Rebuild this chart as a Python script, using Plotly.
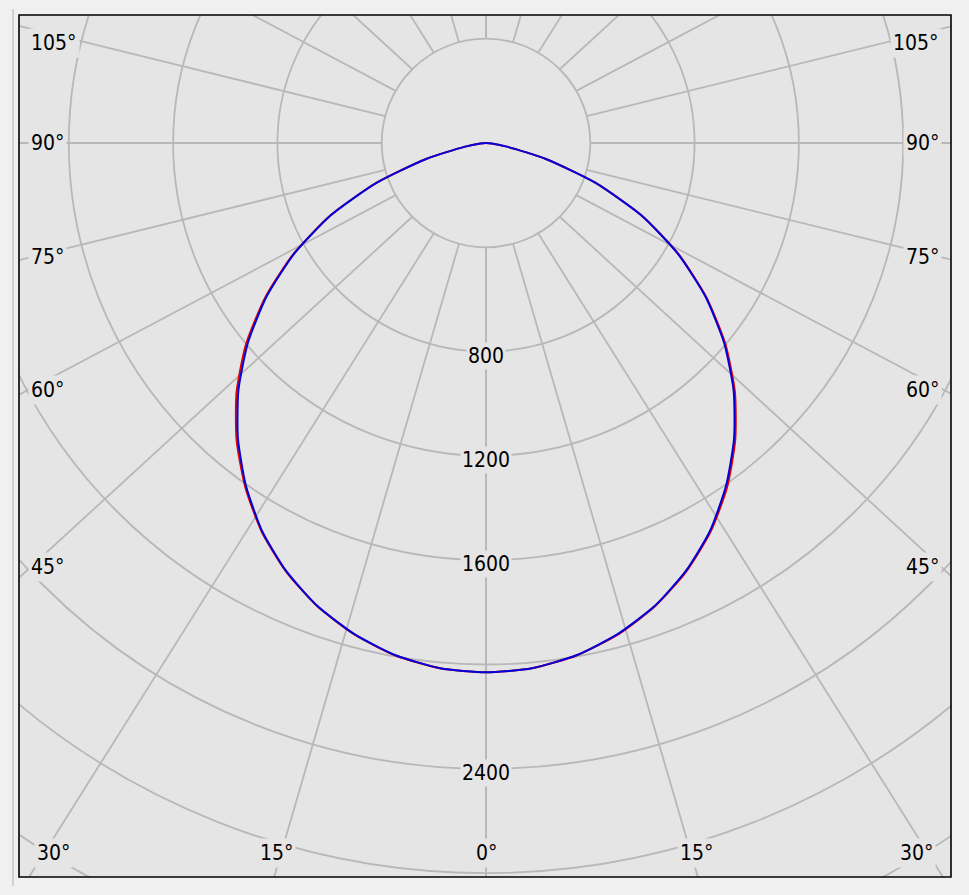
import numpy as np
import plotly.graph_objects as go

# ---------------- data (luminous intensity distribution, cd) ----------------
gamma = [0, 5, 10, 15, 20, 25, 30, 35, 40, 45, 50, 55, 60, 65, 70, 75, 80, 85, 90]
c0 = [2030, 2022, 1996, 1952, 1892, 1815, 1722, 1612, 1487, 1350, 1198, 1032, 853, 660, 448, 240, 85, 22, 0]
c180 = [2030, 2022, 1996, 1951, 1891, 1814, 1721, 1610, 1488, 1353, 1202, 1034, 854, 660, 448, 240, 85, 22, 0]
c90 = [2030, 2022, 1995, 1950, 1890, 1812, 1718, 1605, 1480, 1343, 1192, 1028, 850, 658, 447, 240, 85, 22, 0]
c270 = [2030, 2022, 1995, 1950, 1890, 1812, 1718, 1605, 1480, 1343, 1192, 1028, 850, 658, 447, 240, 85, 22, 0]

radial_grid = [400, 800, 1200, 1600, 2000, 2400, 2800, 3200]
radial_labels = [800, 1200, 1600, 2400]
spoke_angles = [0, 15, 30, 45, 60, 75, 90, 105, 120, 135, 150, 165, 180]
side_labels = ["105°", "90°", "75°", "60°", "45°"]
bottom_labels = ["30°", "15°", "0°", "15°", "30°"]

# ---------------- layout geometry (pixels) ----------------
W, H = 969, 895
L, R, T, B = 19, 951, 15, 877          # plot frame
CX, CY = 486, 143                      # pole position
PX_PER_CD = 104.3 / 400.0
SPOKE_END = 3830.0                     # spokes run to an ellipse of this size
SPOKE_XSTRETCH = 1.08

xr = [-(CX - L) / PX_PER_CD, (R - CX) / PX_PER_CD]
yr = [-(B - CY) / PX_PER_CD, (CY - T) / PX_PER_CD]


def pfx(px):
    return px / W


def pfy(py):
    return 1 - py / H


GRID = "#b8b8b8"
BG = "#e5e5e5"
FONT = dict(family="DejaVu Sans Condensed, DejaVu Sans, Liberation Sans, sans-serif", size=21, color="#000000")


def polar_xy(values, angles, side):
    v = np.asarray(values, float)
    a = np.radians(np.asarray(angles, float))
    return side * v * np.sin(a), -v * np.cos(a)


def curve(left_vals, right_vals):
    xl, yl = polar_xy(left_vals, gamma, -1)
    xr_, yr_ = polar_xy(right_vals, gamma, 1)
    return np.concatenate([xl[::-1], xr_[1:]]), np.concatenate([yl[::-1], yr_[1:]])


fig = go.Figure()

# spokes: from the inner ring outwards
sx, sy = [], []
for a in spoke_angles:
    for side in (-1, 1):
        ix, iy = polar_xy([radial_grid[0]], [a], side)
        ox, oy = polar_xy([SPOKE_END], [a], side)
        sx += [ix[0], ox[0] * SPOKE_XSTRETCH, None]
        sy += [iy[0], oy[0], None]
fig.add_trace(go.Scatter(x=sx, y=sy, mode="lines", line=dict(color=GRID, width=1.8),
                         hoverinfo="skip", showlegend=False))

# grid circles
shapes = []
for r in radial_grid:
    shapes.append(dict(type="circle", xref="x", yref="y", x0=-r, x1=r, y0=-r, y1=r,
                       line=dict(color=GRID, width=1.8), layer="below"))

# curves
x1, y1 = curve(c180, c0)
fig.add_trace(go.Scatter(x=x1, y=y1, mode="lines", name="C0-C180",
                         line=dict(color="#e00000", width=2, shape="spline", smoothing=0.6),
                         showlegend=False))
x2, y2 = curve(c270, c90)
fig.add_trace(go.Scatter(x=x2, y=y2, mode="lines", name="C90-C270",
                         line=dict(color="#0000dc", width=2, shape="spline", smoothing=0.6),
                         showlegend=False))

# frame and outer line
shapes.append(dict(type="rect", xref="paper", yref="paper", x0=pfx(L), x1=pfx(R), y0=pfy(B), y1=pfy(T),
                   line=dict(color="#000000", width=1.6), layer="above"))
shapes.append(dict(type="line", xref="paper", yref="paper", x0=pfx(13), x1=pfx(13), y0=pfy(886), y1=pfy(9),
                   line=dict(color="#b0b0b0", width=1), layer="above"))

annotations = []
for v in radial_labels:
    annotations.append(dict(x=0, y=-v, xref="x", yref="y", text=str(v), showarrow=False,
                            font=FONT, bgcolor=BG, borderpad=1, yshift=-4))

side_y = [43, 143, 257, 390, 567]
for txt, py in zip(side_labels, side_y):
    annotations.append(dict(x=pfx(28), y=pfy(py), xref="paper", yref="paper", text=txt,
                            showarrow=False, xanchor="left", yanchor="middle",
                            font=FONT, bgcolor=BG, borderpad=2))
    annotations.append(dict(x=pfx(942), y=pfy(py), xref="paper", yref="paper", text=txt,
                            showarrow=False, xanchor="right", yanchor="middle",
                            font=FONT, bgcolor=BG, borderpad=2))

bottom_x = [53, 276, 486, 696, 916]
for txt, px in zip(bottom_labels, bottom_x):
    annotations.append(dict(x=pfx(px), y=pfy(853), xref="paper", yref="paper", text=txt,
                            showarrow=False, xanchor="center", yanchor="middle",
                            font=FONT, bgcolor=BG, borderpad=2))

fig.update_layout(
    width=W, height=H,
    margin=dict(l=0, r=0, t=0, b=0),
    paper_bgcolor="#f0f0f0",
    plot_bgcolor=BG,
    shapes=shapes,
    annotations=annotations,
    hovermode=False,
    xaxis=dict(domain=[pfx(L), pfx(R)], range=xr, showgrid=False, zeroline=False,
               showticklabels=False, ticks="", showline=False, fixedrange=True),
    yaxis=dict(domain=[pfy(B), pfy(T)], range=yr, showgrid=False, zeroline=False,
               showticklabels=False, ticks="", showline=False, fixedrange=True),
)

fig.write_html(
    "out.html",
    config={"displayModeBar": False},
    post_script="document.body.style.margin='0';document.body.style.background='#f0f0f0';",
)
